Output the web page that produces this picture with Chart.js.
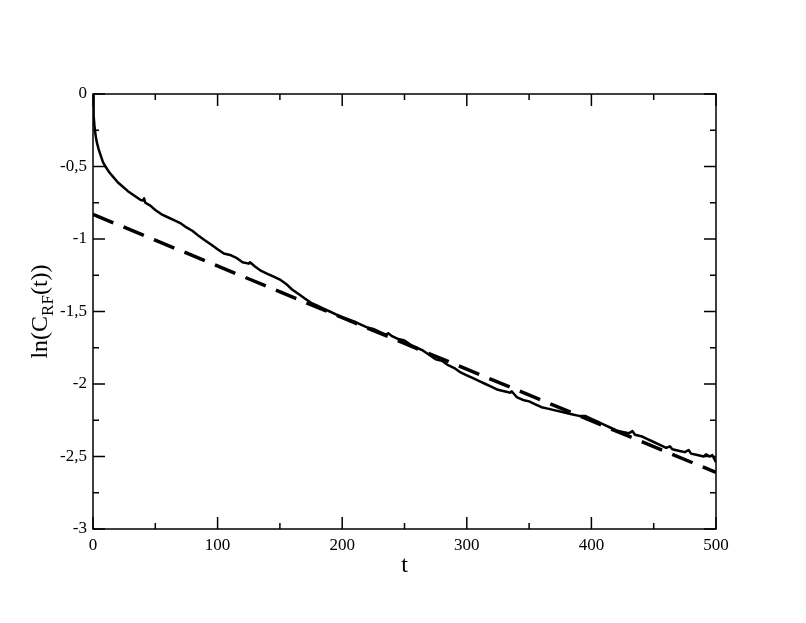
<!DOCTYPE html>
<html>
<head>
<meta charset="utf-8">
<script src="https://cdn.jsdelivr.net/npm/chart.js@4.4.0/dist/chart.umd.min.js"></script>
<style>
  html, body { margin: 0; padding: 0; background: #fff; }
  #wrap { width: 806px; height: 623px; }
</style>
</head>
<body>
<div id="wrap"><canvas id="chart" width="806" height="623"></canvas></div>
<script>
// --- Data ---
const timeSteps = [0, 0.3, 0.7, 1.2, 2, 3, 4.5, 6, 8, 10, 13, 16, 20, 24, 28, 33, 38, 40, 41, 42, 46, 50, 55, 60, 65, 70, 75, 80, 85, 90, 95, 100,
  105, 110, 115, 120, 125, 126, 130, 135, 140, 145, 150, 155, 160, 165, 170, 175, 180, 185, 190, 195, 200,
  205, 210, 215, 220, 225, 230, 235, 237, 240, 245, 250, 255, 260, 265, 270, 275, 280, 285, 290, 295, 300,
  305, 310, 315, 320, 325, 330, 335, 336, 340, 345, 350, 355, 360, 365, 370, 375, 380, 385, 390, 395, 400,
  405, 410, 415, 420, 425, 430, 433, 435, 440, 445, 450, 455, 460, 463, 465, 470, 475, 478, 480, 485, 490, 492, 495, 497, 500];
const lnCorr = [0, -0.08, -0.15, -0.22, -0.28, -0.33, -0.38, -0.42, -0.47, -0.50, -0.54, -0.57, -0.61, -0.64, -0.67, -0.70, -0.73, -0.735, -0.72, -0.75, -0.77, -0.80, -0.83, -0.85, -0.87, -0.89, -0.92, -0.945, -0.98, -1.01, -1.04, -1.07,
  -1.10, -1.11, -1.13, -1.16, -1.17, -1.16, -1.19, -1.22, -1.24, -1.26, -1.28, -1.31, -1.35, -1.38, -1.41, -1.44, -1.46, -1.48, -1.50, -1.52, -1.54,
  -1.555, -1.57, -1.59, -1.61, -1.62, -1.64, -1.66, -1.65, -1.67, -1.69, -1.70, -1.73, -1.75, -1.77, -1.80, -1.83, -1.84, -1.87, -1.89, -1.92, -1.94,
  -1.96, -1.98, -2.00, -2.02, -2.04, -2.05, -2.06, -2.05, -2.09, -2.11, -2.12, -2.14, -2.16, -2.17, -2.18, -2.19, -2.20, -2.21, -2.22, -2.22, -2.24,
  -2.26, -2.28, -2.30, -2.32, -2.33, -2.34, -2.325, -2.35, -2.36, -2.38, -2.40, -2.42, -2.44, -2.43, -2.45, -2.46, -2.47, -2.455, -2.48, -2.49, -2.50, -2.485, -2.50, -2.49, -2.54];

// linear fit (dashed)
const fitT = [0, 500];
const fitY = [-0.83, -2.61];

const xTicks = [0, 100, 200, 300, 400, 500];
const xMinor = [50, 150, 250, 350, 450];
const yTicks = [0, -0.5, -1, -1.5, -2, -2.5, -3];
const yMinor = [-0.25, -0.75, -1.25, -1.75, -2.25, -2.75];

const SERIF = '"Liberation Serif", "DejaVu Serif", serif';

// frame, inside ticks on all sides, axis titles
const framePlugin = {
  id: 'frame',
  afterDraw(chart) {
    const { ctx, chartArea: a, scales } = chart;
    const xs = scales.x, ys = scales.y;
    ctx.save();
    ctx.strokeStyle = '#000';
    ctx.lineWidth = 1.5;
    ctx.strokeRect(a.left, a.top, a.right - a.left, a.bottom - a.top);

    ctx.beginPath();
    const tick = (vals, len) => {
      vals.forEach(v => {
        const px = xs.getPixelForValue(v);
        ctx.moveTo(px, a.bottom); ctx.lineTo(px, a.bottom - len);
        ctx.moveTo(px, a.top); ctx.lineTo(px, a.top + len);
      });
    };
    const tickY = (vals, len) => {
      vals.forEach(v => {
        const py = ys.getPixelForValue(v);
        ctx.moveTo(a.left, py); ctx.lineTo(a.left + len, py);
        ctx.moveTo(a.right, py); ctx.lineTo(a.right - len, py);
      });
    };
    tick(xTicks, 12); tick(xMinor, 6);
    tickY(yTicks, 12); tickY(yMinor, 6);
    ctx.stroke();

    ctx.fillStyle = '#000';
    // x title
    ctx.font = '24px ' + SERIF;
    ctx.textAlign = 'center';
    ctx.textBaseline = 'alphabetic';
    ctx.fillText('t', (a.left + a.right) / 2, 572);

    // y title with subscript
    ctx.translate(47, (a.top + a.bottom) / 2);
    ctx.rotate(-Math.PI / 2);
    ctx.textAlign = 'left';
    const big = '24px ' + SERIF, small = '17px ' + SERIF;
    ctx.font = big;
    const w1 = ctx.measureText('ln(C').width;
    const w3 = ctx.measureText('(t))').width;
    ctx.font = small;
    const w2 = ctx.measureText('RF').width;
    let x = -(w1 + w2 + w3) / 2;
    ctx.font = big; ctx.fillText('ln(C', x, 0); x += w1;
    ctx.font = small; ctx.fillText('RF', x, 6); x += w2;
    ctx.font = big; ctx.fillText('(t))', x, 0);
    ctx.restore();
  }
};

new Chart(document.getElementById('chart'), {
  type: 'scatter',
  data: {
    datasets: [
      {
        data: timeSteps.map((t, i) => ({ x: t, y: lnCorr[i] })),
        showLine: true,
        borderColor: '#000',
        borderWidth: 2.5,
        borderJoinStyle: 'round',
        pointRadius: 0,
        tension: 0
      },
      {
        data: fitT.map((t, i) => ({ x: t, y: fitY[i] })),
        showLine: true,
        borderColor: '#000',
        borderWidth: 3.5,
        borderDash: [22, 11],
        pointRadius: 0,
        tension: 0
      }
    ]
  },
  options: {
    responsive: false,
    animation: false,
    layout: { padding: { left: 0, top: 94, right: 90, bottom: 0 } },
    plugins: { legend: { display: false }, tooltip: { enabled: false } },
    scales: {
      x: {
        type: 'linear', min: 0, max: 500,
        grid: { display: false, drawTicks: false },
        border: { display: false },
        afterBuildTicks: s => { s.ticks = xTicks.map(v => ({ value: v })); },
        afterFit: s => { s.height = 94; },
        ticks: {
          color: '#000', padding: 6, maxRotation: 0,
          font: { family: SERIF, size: 17 },
          callback: v => String(v)
        }
      },
      y: {
        type: 'linear', min: -3, max: 0,
        grid: { display: false, drawTicks: false },
        border: { display: false },
        afterBuildTicks: s => { s.ticks = yTicks.map(v => ({ value: v })); },
        afterFit: s => { s.width = 93; },
        ticks: {
          color: '#000', padding: 6,
          font: { family: SERIF, size: 17 },
          callback: v => String(v).replace('.', ',')
        }
      }
    }
  },
  plugins: [framePlugin]
});
</script>
</body>
</html>
